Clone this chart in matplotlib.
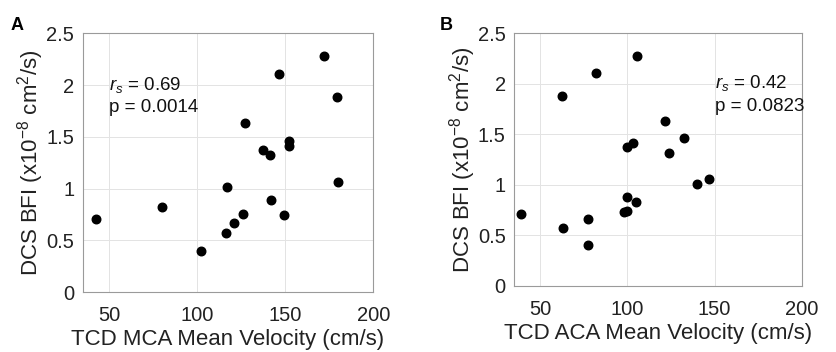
import matplotlib
matplotlib.use("Agg")
import matplotlib.pyplot as plt
import numpy as np

plt.rcParams['font.family'] = ['Liberation Sans', 'DejaVu Sans']
plt.rcParams['mathtext.fontset'] = 'custom'
plt.rcParams['mathtext.rm'] = 'Liberation Sans'
plt.rcParams['mathtext.it'] = 'Liberation Sans:italic'

# DCS BFI (x10^-8 cm^2/s), same subjects in both panels
bfi_a = np.array([0.71, 0.82, 0.40, 0.57, 1.01, 0.67, 0.75, 1.63, 1.37, 1.32,
                  0.89, 2.11, 0.74, 1.46, 1.41, 2.28, 1.88, 1.06])
mca = np.array([42.4, 80.1, 101.9, 116.1, 117.0, 121.0, 126.1, 127.1, 137.1, 141.1,
                142.0, 146.2, 149.2, 152.1, 152.1, 172.0, 179.2, 180.1])

bfi_b = np.array([0.71, 1.88, 0.57, 0.66, 0.40, 2.11, 0.73, 0.74, 0.88, 1.37,
                  1.41, 0.83, 2.28, 1.63, 1.31, 1.46, 1.01, 1.06])
aca = np.array([39.3, 62.6, 63.0, 77.3, 77.3, 81.9, 98.0, 99.7, 99.9, 99.7,
                103.1, 104.8, 105.8, 121.6, 123.9, 132.7, 140.0, 146.9])

xticks = [50, 100, 150, 200]
yticks = [0, 0.5, 1, 1.5, 2, 2.5]
yticklabels = ['0', '0.5', '1', '1.5', '2', '2.5']

fig = plt.figure(figsize=(8.36, 3.52), dpi=100)
W, H = 836, 352

def make_ax(l, r, t, b):
    return fig.add_axes([l / W, (H - b) / H, (r - l) / W, (b - t) / H])

panels = [
    (make_ax(82.7, 373.3, 33.3, 292), mca, bfi_a, 'TCD MCA Mean Velocity (cm/s)',
     (50, 1.9), '$r_s$ = 0.69\np = 0.0014', 'A', (17, 25)),
    (make_ax(514, 801.7, 33.3, 285.7), aca, bfi_b, 'TCD ACA Mean Velocity (cm/s)',
     (150, 1.9), '$r_s$ = 0.42\np = 0.0823', 'B', (446, 25)),
]

for ax, x, y, xlabel, tpos, txt, letter, lpos in panels:
    ax.scatter(x, y, s=38, color='black', zorder=3)
    ax.set_xlim(35, 200)
    ax.set_ylim(0, 2.5)
    ax.set_xticks(xticks)
    ax.set_yticks(yticks)
    ax.set_yticklabels(yticklabels)
    ax.grid(True, color='#e3e3e3', linewidth=0.7)
    ax.set_axisbelow(True)
    for s in ax.spines.values():
        s.set_color('#9a9a9a')
        s.set_linewidth(0.8)
    ax.tick_params(length=0, labelsize=14.5, colors='#222222')
    ax.tick_params(axis='x', pad=10)
    ax.tick_params(axis='y', pad=6)
    ax.set_xlabel(xlabel, fontsize=16, color='#222222', labelpad=3)
    ax.set_ylabel('DCS BFI (x10$^{-8}$ cm$^2$/s)', fontsize=16, color='#222222', labelpad=0)
    ax.text(tpos[0], tpos[1], txt, fontsize=13.5, va='center', ha='left',
            linespacing=1.35, color='#111111')
    fig.text(lpos[0] / W, 1 - lpos[1] / H, letter, fontsize=13, fontweight='bold',
             ha='center', va='center')

fig.savefig('out.png', dpi=100)
